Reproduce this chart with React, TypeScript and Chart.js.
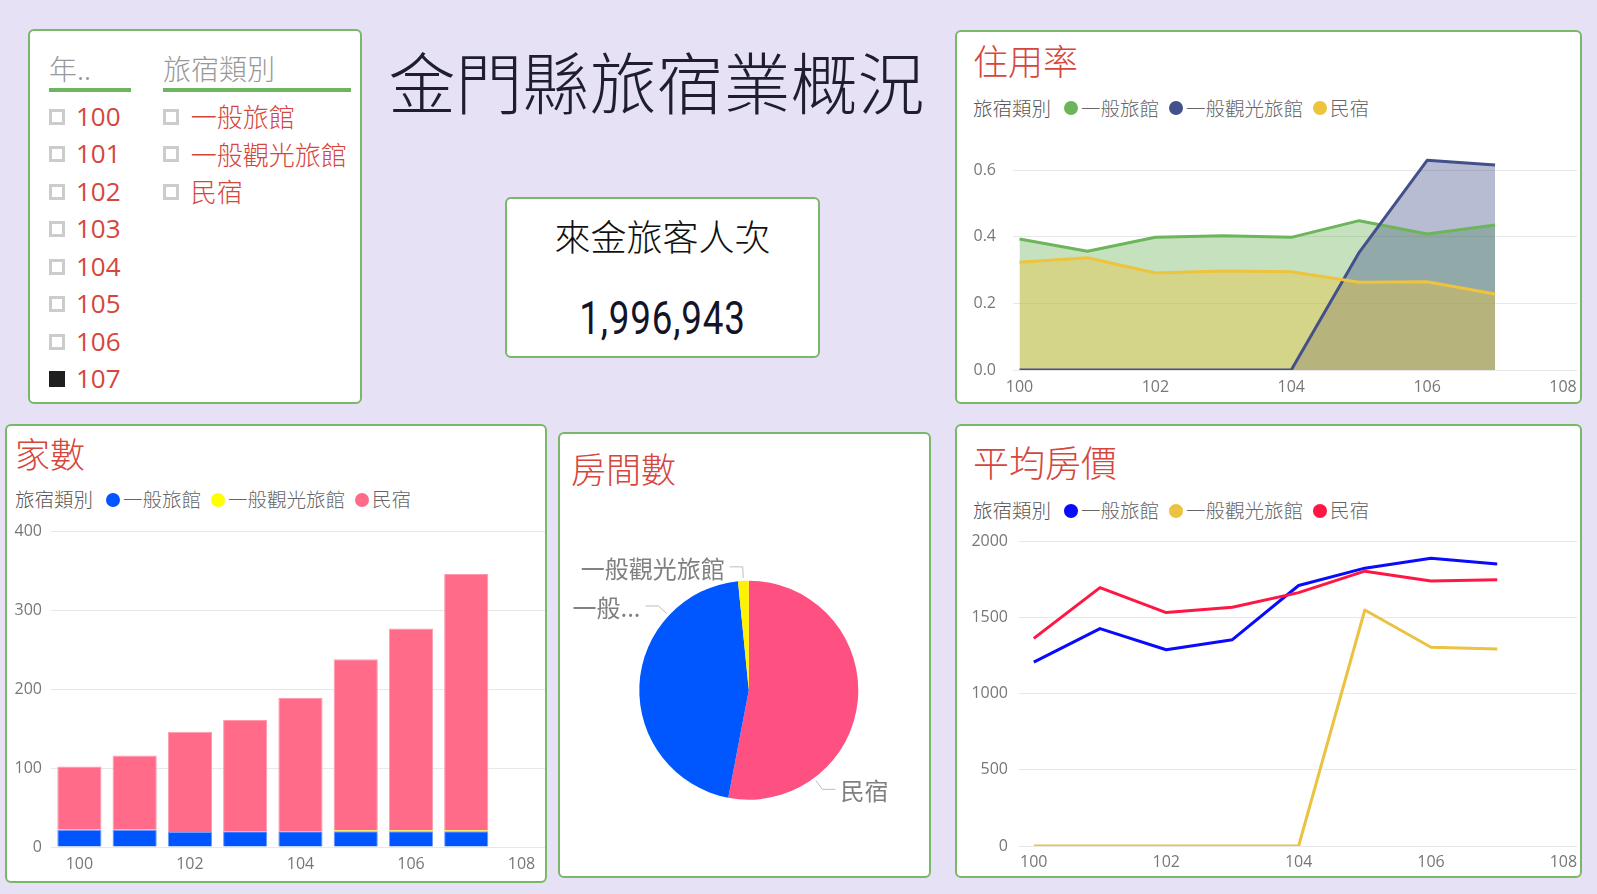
import React, { useEffect, useRef } from 'react';
import { Chart, registerables } from 'chart.js';

Chart.register(...registerables);

// ---------------- data ----------------
const years = [100, 101, 102, 103, 104, 105, 106, 107];
const yearTicks = [100, 102, 104, 106, 108];
const lodgingTypes = ['一般旅館', '一般觀光旅館', '民宿'];

const occupancyGeneral = [0.393, 0.356, 0.398, 0.403, 0.398, 0.448, 0.408, 0.435];
const occupancyTourist = [0, 0, 0, 0, 0, 0.353, 0.629, 0.615];
const occupancyBnb = [0.323, 0.337, 0.291, 0.297, 0.295, 0.263, 0.265, 0.228];
const occupancyTicks = [0, 0.2, 0.4, 0.6];

const countGeneral = [22, 22, 19, 20, 20, 20, 20, 20];
const countTourist = [0, 0, 0, 0, 0, 1, 1, 1];
const countBnb = [80, 94, 127, 141, 169, 217, 256, 325];
const countTicks = [0, 100, 200, 300, 400];

const roomLabels = ['民宿', '一般旅館', '一般觀光旅館'];
const roomShownLabels = ['民宿', '一般...', '一般觀光旅館'];
const roomValues = [1517, 1300, 45];

const priceGeneral = [1208, 1428, 1289, 1355, 1711, 1825, 1890, 1853];
const priceTourist = [0, 0, 0, 0, 0, 1550, 1305, 1294];
const priceBnb = [1364, 1697, 1533, 1568, 1664, 1805, 1741, 1748];
const priceTicks = [0, 500, 1000, 1500, 2000];

const slicerYears = [100, 101, 102, 103, 104, 105, 106, 107];
const selectedYears = [107];
const visitorCount = 1996943;

// ---------------- styles ----------------
const BG = '#E6E1F5';
const BORDER = '#78B868';
const RED = '#D5463C';
const CJK = '"Noto Sans CJK TC", "Noto Sans CJK SC", sans-serif';
const LATIN = '"Open Sans", "Noto Sans", sans-serif';
const tickFont = { family: LATIN, size: 16 };
const TICK_COLOR = '#777777';
const GRID_COLOR = '#E8E8E8';

const occColors = ['#6DB55B', '#43508A', '#EEC33D'];
const occFills = ['rgba(109,181,91,0.4)', 'rgba(61,74,135,0.37)', 'rgba(238,194,59,0.4)'];
const barColors = ['#0055FF', '#FFFF00', '#FF6B88'];
const barBorders = ['#6F9BFF', '#FFFF80', '#FF9AAE'];
const pieColors = ['#FF5082', '#0057FF', '#FFF200'];
const priceColors = ['#0A0AFF', '#EBC241', '#FF1744'];
const pieLabelAngles: (number | null)[] = [143.4, 313, null];

function pts(values: number[]) {
  return years.map((x, i) => ({ x, y: values[i] }));
}

function xScale(min: number, max: number, height: number, padding: number, stacked = false) {
  return {
    type: 'linear',
    min,
    max,
    bounds: 'data',
    offset: false,
    stacked,
    afterBuildTicks: (s: any) => {
      s.ticks = yearTicks.map((v) => ({ value: v }));
    },
    afterFit: (s: any) => {
      s.height = height;
      s.paddingLeft = 0;
      s.paddingRight = 0;
      s.paddingTop = 0;
      s.paddingBottom = 0;
    },
    grid: { display: false, drawTicks: false },
    border: { display: false },
    ticks: {
      color: TICK_COLOR,
      font: tickFont,
      padding,
      maxRotation: 0,
      autoSkip: false,
      callback: (v: any) => String(v),
    },
  };
}

function yScale(max: number, ticks: number[], width: number, padding: number, fmt: (v: number) => string, stacked = false) {
  return {
    type: 'linear',
    min: 0,
    max,
    bounds: 'data',
    stacked,
    afterBuildTicks: (s: any) => {
      s.ticks = ticks.map((v) => ({ value: v }));
    },
    afterFit: (s: any) => {
      s.width = width;
      s.paddingLeft = 0;
      s.paddingRight = 0;
      s.paddingTop = 0;
      s.paddingBottom = 0;
    },
    grid: { color: GRID_COLOR, lineWidth: 1, drawTicks: false },
    border: { display: false },
    ticks: { color: TICK_COLOR, font: tickFont, padding, callback: (v: any) => fmt(Number(v)) },
  };
}

const baseOptions = {
  responsive: false,
  animation: false,
  devicePixelRatio: 1,
  events: [],
};

function occupancyConfig(): any {
  const sets = [occupancyGeneral, occupancyTourist, occupancyBnb];
  return {
    type: 'line',
    data: {
      datasets: sets.map((s, i) => ({
        label: lodgingTypes[i],
        data: pts(s),
        borderColor: occColors[i],
        backgroundColor: occFills[i],
        fill: 'origin',
        borderWidth: 3,
        pointRadius: 0,
        tension: 0,
        borderJoinStyle: 'round',
        order: 3 - i,
      })),
    },
    options: {
      ...baseOptions,
      layout: { padding: { left: 0, right: 3, top: 10, bottom: 4 } },
      plugins: {
        legend: { display: false },
        tooltip: { enabled: false },
        filler: { drawTime: 'beforeDatasetsDraw' },
      },
      scales: {
        x: xScale(99.904, 108.206, 28, 8),
        y: yScale(0.66, occupancyTicks, 56, 17, (v) => v.toFixed(1)),
      },
    },
  };
}

function countConfig(): any {
  const sets = [countGeneral, countTourist, countBnb];
  return {
    type: 'bar',
    data: {
      datasets: sets.map((s, i) => ({
        label: lodgingTypes[i],
        data: pts(s),
        backgroundColor: barColors[i],
        borderColor: barBorders[i],
        borderWidth: i === 1 ? 0 : 1,
        barPercentage: 1,
        categoryPercentage: 0.8,
      })),
    },
    options: {
      ...baseOptions,
      layout: { padding: { left: 0, right: 0, top: 16.5, bottom: 3 } },
      plugins: { legend: { display: false }, tooltip: { enabled: false } },
      scales: {
        x: xScale(99.486, 108.425, 30, 7.5, true),
        y: yScale(400, countTicks, 43, 9, (v) => String(v), true),
      },
    },
  };
}

const pieLabelPlugin = {
  id: 'pieLabels',
  afterDraw(chart: any) {
    const ctx = chart.ctx;
    const meta = chart.getDatasetMeta(0);
    ctx.save();
    ctx.font = `24px ${CJK}`;
    ctx.textBaseline = 'middle';
    meta.data.forEach((arc: any, i: number) => {
      const { x, y, outerRadius, startAngle, endAngle } = arc.getProps(
        ['x', 'y', 'outerRadius', 'startAngle', 'endAngle'],
        true
      );
      const deg = pieLabelAngles[i];
      const a = deg == null ? (startAngle + endAngle) / 2 : ((deg - 90) * Math.PI) / 180;
      const c = Math.cos(a);
      const s = Math.sin(a);
      const p1x = x + c * (outerRadius + 3);
      const p1y = y + s * (outerRadius + 3);
      const p2x = x + c * (outerRadius + 14);
      const p2y = y + s * (outerRadius + 14);
      const dir = c >= 0 ? 1 : -1;
      const p3x = p2x + dir * 13;
      ctx.strokeStyle = '#BDBDBD';
      ctx.lineWidth = 1;
      ctx.beginPath();
      ctx.moveTo(p1x, p1y);
      ctx.lineTo(p2x, p2y);
      ctx.lineTo(p3x, p2y);
      ctx.stroke();
      ctx.fillStyle = '#808080';
      ctx.textAlign = dir > 0 ? 'left' : 'right';
      ctx.fillText(roomShownLabels[i], p3x + dir * 5, p2y + 2);
    });
    ctx.restore();
  },
};

function roomConfig(): any {
  return {
    type: 'pie',
    data: {
      labels: roomLabels,
      datasets: [
        {
          data: roomValues,
          backgroundColor: pieColors,
          borderWidth: 0,
          hoverBorderWidth: 0,
          hoverOffset: 0,
        },
      ],
    },
    options: {
      ...baseOptions,
      layout: { padding: { left: 79.3, right: 70.7, top: 146.7, bottom: 76.3 } },
      plugins: { legend: { display: false }, tooltip: { enabled: false } },
    },
    plugins: [pieLabelPlugin],
  };
}

function priceConfig(): any {
  const sets = [priceGeneral, priceTourist, priceBnb];
  return {
    type: 'line',
    data: {
      datasets: sets.map((s, i) => ({
        label: lodgingTypes[i],
        data: pts(s),
        borderColor: priceColors[i],
        backgroundColor: priceColors[i],
        fill: false,
        borderWidth: 3,
        pointRadius: 0,
        tension: 0,
        borderJoinStyle: 'round',
        order: 3 - i,
      })),
    },
    options: {
      ...baseOptions,
      layout: { padding: { left: 0, right: 3, top: 16.5, bottom: 3 } },
      plugins: { legend: { display: false }, tooltip: { enabled: false } },
      scales: {
        x: xScale(99.769, 108.205, 26, 7),
        y: yScale(2000, priceTicks, 61.5, 10.5, (v) => String(v)),
      },
    },
  };
}

// ---------------- components ----------------
function ChartCanvas(props: { left: number; top: number; width: number; height: number; make: () => any }) {
  const ref = useRef<HTMLCanvasElement>(null);
  useEffect(() => {
    const chart = new Chart(ref.current as HTMLCanvasElement, props.make());
    return () => chart.destroy();
  }, []);
  return (
    <canvas
      ref={ref}
      width={props.width}
      height={props.height}
      style={{ position: 'absolute', left: props.left, top: props.top, width: props.width, height: props.height }}
    />
  );
}

function Panel(props: { left: number; top: number; right: number; bottom: number }) {
  return (
    <div
      style={{
        position: 'absolute',
        left: props.left,
        top: props.top,
        width: props.right - props.left,
        height: props.bottom - props.top,
        boxSizing: 'border-box',
        border: `2.5px solid ${BORDER}`,
        borderRadius: 6,
        background: '#FFFFFF',
      }}
    />
  );
}

function Title(props: { left: number; centerY: number; text: string; size?: number }) {
  const size = props.size ?? 35;
  return (
    <div
      style={{
        position: 'absolute',
        left: props.left,
        top: props.centerY - 0.556 * size,
        fontFamily: CJK,
        fontSize: size,
        fontWeight: 300,
        lineHeight: `${size}px`,
        color: RED,
        whiteSpace: 'nowrap',
      }}
    >
      {props.text}
    </div>
  );
}

function Legend(props: { left: number; centerY: number; colors: string[] }) {
  return (
    <div
      style={{
        position: 'absolute',
        left: props.left,
        top: props.centerY - 11,
        height: 20,
        display: 'flex',
        alignItems: 'center',
        fontFamily: CJK,
        fontSize: 19.5,
        fontWeight: 300,
        lineHeight: '20px',
        color: '#666',
        whiteSpace: 'nowrap',
      }}
    >
      <span style={{ color: '#555', marginRight: 13 }}>旅宿類別</span>
      {lodgingTypes.map((t, i) => (
        <span key={t} style={{ display: 'flex', alignItems: 'center', marginRight: 10 }}>
          <span
            style={{ width: 14, height: 14, borderRadius: 7, background: props.colors[i], marginRight: 3, marginTop: 1 }}
          />
          <span>{t}</span>
        </span>
      ))}
    </div>
  );
}

function Checkbox(props: { left: number; centerY: number; checked: boolean }) {
  return (
    <div
      style={{
        position: 'absolute',
        left: props.left,
        top: props.centerY - 8,
        width: 16,
        height: 16,
        boxSizing: 'border-box',
        border: props.checked ? '3px solid #1F1F1F' : '3px solid #CCCCCC',
        background: props.checked ? '#1F1F1F' : '#FFFFFF',
      }}
    />
  );
}

function Slicer() {
  const rowY = (i: number) => 116.7 + 37.5 * i;
  return (
    <>
      <Panel left={28} top={29} right={362} bottom={404} />
      <div
        style={{
          position: 'absolute',
          left: 49,
          top: 69.2 - 0.556 * 28,
          fontFamily: CJK,
          fontSize: 28,
          fontWeight: 300,
          lineHeight: '28px',
          color: '#999',
        }}
      >
        年..
      </div>
      <div
        style={{
          position: 'absolute',
          left: 163,
          top: 69.2 - 0.556 * 28,
          fontFamily: CJK,
          fontSize: 28,
          fontWeight: 300,
          lineHeight: '28px',
          color: '#999',
        }}
      >
        旅宿類別
      </div>
      <div style={{ position: 'absolute', left: 49, top: 88.3, width: 81.5, height: 3.3, background: '#6DB65F' }} />
      <div style={{ position: 'absolute', left: 163, top: 88.3, width: 188, height: 3.3, background: '#6DB65F' }} />
      {slicerYears.map((y, i) => (
        <React.Fragment key={y}>
          <Checkbox left={49.3} centerY={rowY(i)} checked={selectedYears.includes(y)} />
          <div
            style={{
              position: 'absolute',
              left: 76,
              top: rowY(i) - 0.531 * 26,
              fontFamily: LATIN,
              fontSize: 26,
              fontWeight: 500,
              lineHeight: '26px',
              color: RED,
            }}
          >
            {y}
          </div>
        </React.Fragment>
      ))}
      {lodgingTypes.map((t, i) => (
        <React.Fragment key={t}>
          <Checkbox left={163.3} centerY={rowY(i)} checked={false} />
          <div
            style={{
              position: 'absolute',
              left: 190.7,
              top: rowY(i) + 1 - 0.556 * 26,
              fontFamily: CJK,
              fontSize: 26,
              fontWeight: 300,
              lineHeight: '26px',
              color: RED,
              whiteSpace: 'nowrap',
            }}
          >
            {t}
          </div>
        </React.Fragment>
      ))}
    </>
  );
}

export default function App() {
  return (
    <div
      style={{
        position: 'fixed',
        left: 0,
        top: 0,
        width: 1597,
        height: 894,
        background: BG,
        overflow: 'hidden',
      }}
    >
      <Slicer />

      {/* main title */}
      <div
        style={{
          position: 'absolute',
          left: 388,
          width: 537,
          top: 83 - 0.556 * 67,
          textAlign: 'center',
          fontFamily: CJK,
          fontSize: 67,
          fontWeight: 300,
          lineHeight: '67px',
          color: '#1E1E2E',
          whiteSpace: 'nowrap',
        }}
      >
        金門縣旅宿業概況
      </div>

      {/* card */}
      <Panel left={505} top={197} right={820} bottom={358} />
      <div
        style={{
          position: 'absolute',
          left: 505,
          width: 315,
          top: 237 - 0.556 * 36,
          textAlign: 'center',
          fontFamily: CJK,
          fontSize: 36,
          fontWeight: 300,
          lineHeight: '36px',
          color: '#111',
        }}
      >
        來金旅客人次
      </div>
      <div
        style={{
          position: 'absolute',
          left: 505,
          width: 315,
          top: 319.3 - 0.53 * 46,
          textAlign: 'center',
          fontFamily: 'Roboto, "Open Sans", sans-serif',
          fontSize: 46,
          fontWeight: 400,
          lineHeight: '46px',
          color: '#141428',
          letterSpacing: 1,
          transform: 'scaleX(0.8)',
          transformOrigin: '50% 50%',
        }}
      >
        {visitorCount.toLocaleString('en-US')}
      </div>

      {/* occupancy */}
      <Panel left={955} top={30} right={1582} bottom={404} />
      <Title left={973} centerY={61.2} text="住用率" />
      <Legend left={973} centerY={108.7} colors={occColors} />
      <ChartCanvas left={957} top={140} width={623} height={262} make={occupancyConfig} />

      {/* counts */}
      <Panel left={5} top={424} right={547} bottom={883} />
      <Title left={15} centerY={454.3} text="家數" />
      <Legend left={15} centerY={500} colors={barColors} />
      <ChartCanvas left={8} top={515} width={537} height={365} make={countConfig} />

      {/* rooms */}
      <Panel left={558} top={432} right={931} bottom={878} />
      <Title left={571} centerY={469.7} text="房間數" />
      <ChartCanvas left={560} top={434} width={369} height={442} make={roomConfig} />

      {/* price */}
      <Panel left={955} top={424} right={1582} bottom={878} />
      <Title left={973} centerY={463.4} text="平均房價" size={36} />
      <Legend left={973} centerY={511.3} colors={priceColors} />
      <ChartCanvas left={957} top={525} width={623} height={350} make={priceConfig} />
    </div>
  );
}
